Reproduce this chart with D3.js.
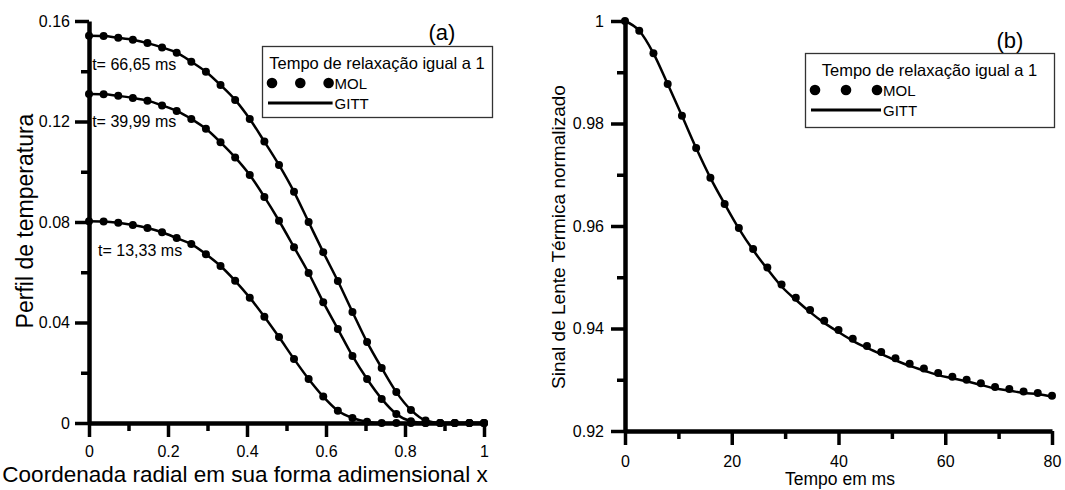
<!DOCTYPE html>
<html>
<head>
<meta charset="utf-8">
<script src="https://cdnjs.cloudflare.com/ajax/libs/d3/7.8.5/d3.min.js"></script>
<style>
  body { margin: 0; background: #fff; }
  svg { font-family: 'Liberation Sans', Arial, sans-serif; }
</style>
</head>
<body>
<svg id="chart" width="1065" height="490"></svg>
<script>
'use strict';

/* global d3 */

// (a) temperature profile vs radial coordinate
var radialX = [0, 0.037, 0.074, 0.111, 0.148, 0.185, 0.222, 0.259, 0.296, 0.333, 0.370, 0.407, 0.444, 0.481,
  0.519, 0.556, 0.593, 0.630, 0.667, 0.704, 0.741, 0.778, 0.815, 0.852, 0.889, 0.926, 0.963, 1.0];
var profile66 = [0.1541, 0.1540, 0.1533, 0.1525, 0.1512, 0.1495, 0.1474, 0.1438, 0.1398, 0.1345, 0.1286, 0.1210,
  0.1120, 0.1027, 0.0920, 0.0800, 0.0680, 0.0565, 0.0442, 0.0322, 0.0219, 0.0123, 0.0052, 0.0010, 0, 0, 0, 0];
var profile40 = [0.1309, 0.1308, 0.1302, 0.1294, 0.1283, 0.1264, 0.1242, 0.1210, 0.1171, 0.1117, 0.1057, 0.0987,
  0.0900, 0.0805, 0.0700, 0.0597, 0.0481, 0.0374, 0.0267, 0.0175, 0.0096, 0.0036, 0.0007, 0, 0, 0, 0, 0];
var profile13 = [0.0803, 0.0802, 0.0797, 0.0788, 0.0776, 0.0759, 0.0736, 0.0712, 0.0672, 0.0625, 0.0566, 0.0499,
  0.0423, 0.0342, 0.0255, 0.0175, 0.0105, 0.0049, 0.0020, 0.0005, 0, 0, 0, 0, 0, 0, 0, 0];
var profileNames = ['t= 66,65 ms', 't= 39,99 ms', 't= 13,33 ms'];

// (b) normalized thermal lens signal vs time
var timeMs = [0, 2.67, 5.33, 8, 10.67, 13.33, 16, 18.67, 21.33, 24, 26.67, 29.33, 32, 34.67, 37.33, 40,
  42.67, 45.33, 48, 50.67, 53.33, 56, 58.67, 61.33, 64, 66.67, 69.33, 72, 74.67, 77.33, 80];
var signalMol = [1.0000, 0.9981, 0.9937, 0.9877, 0.9815, 0.9752, 0.9694, 0.9643, 0.9596, 0.9555, 0.9519, 0.9486,
  0.9460, 0.9436, 0.9415, 0.9397, 0.9380, 0.9366, 0.9354, 0.9342, 0.9331, 0.9322, 0.9313, 0.9306, 0.9300,
  0.9293, 0.9286, 0.9282, 0.9277, 0.9274, 0.9269];
var signalGitt = [1.0000, 0.9981, 0.9937, 0.9877, 0.9815, 0.9752, 0.9694, 0.9643, 0.9595, 0.9553, 0.9516, 0.9482,
  0.9456, 0.9432, 0.9411, 0.9393, 0.9376, 0.9362, 0.9350, 0.9338, 0.9327, 0.9318, 0.9309, 0.9303, 0.9297,
  0.9290, 0.9283, 0.9279, 0.9274, 0.9272, 0.9267];

// ticks
var leftXTicks = [0, 0.2, 0.4, 0.6, 0.8, 1];
var leftXLabels = ['0', '0.2', '0.4', '0.6', '0.8', '1'];
var leftXMinor = [0.1, 0.3, 0.5, 0.7, 0.9];
var leftYTicks = [0, 0.04, 0.08, 0.12, 0.16];
var leftYLabels = ['0', '0.04', '0.08', '0.12', '0.16'];
var leftYMinor = [0.02, 0.06, 0.10, 0.14];
var rightXTicks = [0, 20, 40, 60, 80];
var rightXLabels = ['0', '20', '40', '60', '80'];
var rightXMinor = [10, 30, 50, 70];
var rightYTicks = [0.92, 0.94, 0.96, 0.98, 1];
var rightYLabels = ['0.92', '0.94', '0.96', '0.98', '1'];
var rightYMinor = [0.93, 0.95, 0.97, 0.99];

var legendTitle = 'Tempo de relaxação igual a 1';
var legendNames = ['MOL', 'GITT'];

var svg = d3.select('#chart');

var leftX = d3.scaleLinear().domain([0, 1]).range([89, 484]);
var leftY = d3.scaleLinear().domain([0, 0.16]).range([423, 21]);
var rightX = d3.scaleLinear().domain([0, 80]).range([625, 1052]);
var rightY = d3.scaleLinear().domain([0.92, 1]).range([431, 21]);

var drawAxis = function(scale, orient, pos, majors, labels, minors, padding) {
  var make = orient === 'left' ? d3.axisLeft : d3.axisBottom;
  var shift = orient === 'left' ? 'translate(' + pos + ',0)' : 'translate(0,' + pos + ')';

  var minor = svg.append('g').attr('transform', shift)
    .call(make(scale).tickValues(minors).tickSize(8).tickSizeOuter(0).tickFormat(''));
  minor.select('.domain').remove();
  minor.selectAll('.tick line').attr('stroke-width', 3.5);

  var major = svg.append('g').attr('transform', shift)
    .call(make(scale).tickValues(majors).tickSize(14).tickSizeOuter(0).tickPadding(padding)
      .tickFormat(function(d, i) { return labels[i]; }));
  major.attr('font-family', null).attr('font-size', null);
  major.select('.domain').attr('stroke-width', 4.5);
  major.selectAll('.tick line').attr('stroke-width', 3.5);
  major.selectAll('.tick text').attr('font-size', 16).attr('fill', '#000');
  return major;
};

drawAxis(leftY, 'left', leftX(0), leftYTicks, leftYLabels, leftYMinor, 5);
drawAxis(leftX, 'bottom', leftY(0), leftXTicks, leftXLabels, leftXMinor, 9);
drawAxis(rightY, 'left', rightX(0), rightYTicks, rightYLabels, rightYMinor, 7);
drawAxis(rightX, 'bottom', rightY(0.92), rightXTicks, rightXLabels, rightXMinor, 11);

// curves: GITT as line, MOL as dots
var drawSeries = function(xs, lineVals, dotVals, x, y) {
  var line = d3.line()
    .x(function(d, i) { return x(xs[i]); })
    .y(function(d) { return y(d); })
    .curve(d3.curveMonotoneX);
  svg.append('path')
    .attr('d', line(lineVals))
    .attr('fill', 'none')
    .attr('stroke', '#000')
    .attr('stroke-width', 2.5);
  svg.append('g').selectAll('circle')
    .data(dotVals)
    .enter().append('circle')
    .attr('cx', function(d, i) { return x(xs[i]); })
    .attr('cy', function(d) { return y(d); })
    .attr('r', 4)
    .attr('fill', '#000');
};

[profile66, profile40, profile13].forEach(function(vals) {
  drawSeries(radialX, vals, vals, leftX, leftY);
});
drawSeries(timeMs, signalGitt, signalMol, rightX, rightY);

// curve labels
var labelPos = [[0.008, 0.1405], [0.008, 0.1178], [0.023, 0.0665]];
profileNames.forEach(function(name, i) {
  svg.append('text')
    .attr('x', leftX(labelPos[i][0]))
    .attr('y', leftY(labelPos[i][1]))
    .attr('font-size', 16)
    .text(name);
});

// legends
var drawLegend = function(x0, y0, w, h, dotGap) {
  var g = svg.append('g').attr('transform', 'translate(' + x0 + ',' + y0 + ')');
  g.append('rect').attr('x', 0.5).attr('y', 0.5).attr('width', w).attr('height', h)
    .attr('fill', '#fff').attr('stroke', '#333').attr('stroke-width', 1.3);
  g.append('text').attr('x', w / 2).attr('y', 23).attr('text-anchor', 'middle')
    .attr('font-size', 16.5).text(legendTitle);
  [0, 1, 2].forEach(function(k) {
    g.append('circle').attr('cx', 10 + k * dotGap).attr('cy', 37).attr('r', 5.3).attr('fill', '#000');
  });
  g.append('line').attr('x1', 6).attr('x2', 14 + 2 * dotGap).attr('y1', 57).attr('y2', 57)
    .attr('stroke', '#000').attr('stroke-width', 2.8);
  g.append('text').attr('x', 16 + 2 * dotGap).attr('y', 42.5).attr('font-size', 15).text(legendNames[0]);
  g.append('text').attr('x', 16 + 2 * dotGap).attr('y', 62.5).attr('font-size', 15).text(legendNames[1]);
};
drawLegend(262, 46, 230, 71, 28.3);
drawLegend(805, 53, 249, 74, 31);

// panel tags
svg.append('text').attr('x', 442).attr('y', 40).attr('text-anchor', 'middle').attr('font-size', 22).text('(a)');
svg.append('text').attr('x', 1010).attr('y', 48).attr('text-anchor', 'middle').attr('font-size', 22).text('(b)');

// axis titles
svg.append('text').attr('x', 245).attr('y', 482).attr('text-anchor', 'middle')
  .attr('font-size', 22.5).text('Coordenada radial em sua forma adimensional x');
svg.append('text').attr('transform', 'translate(33,221) rotate(-90)').attr('text-anchor', 'middle')
  .attr('font-size', 23).text('Perfil de temperatura');
svg.append('text').attr('transform', 'translate(840,485)').attr('text-anchor', 'middle')
  .attr('font-size', 17.5).text('Tempo em ms');
svg.append('text').attr('transform', 'translate(565,237) rotate(-90)').attr('text-anchor', 'middle')
  .attr('font-size', 19).text('Sinal de Lente Térmica normalizado');
</script>
</body>
</html>
